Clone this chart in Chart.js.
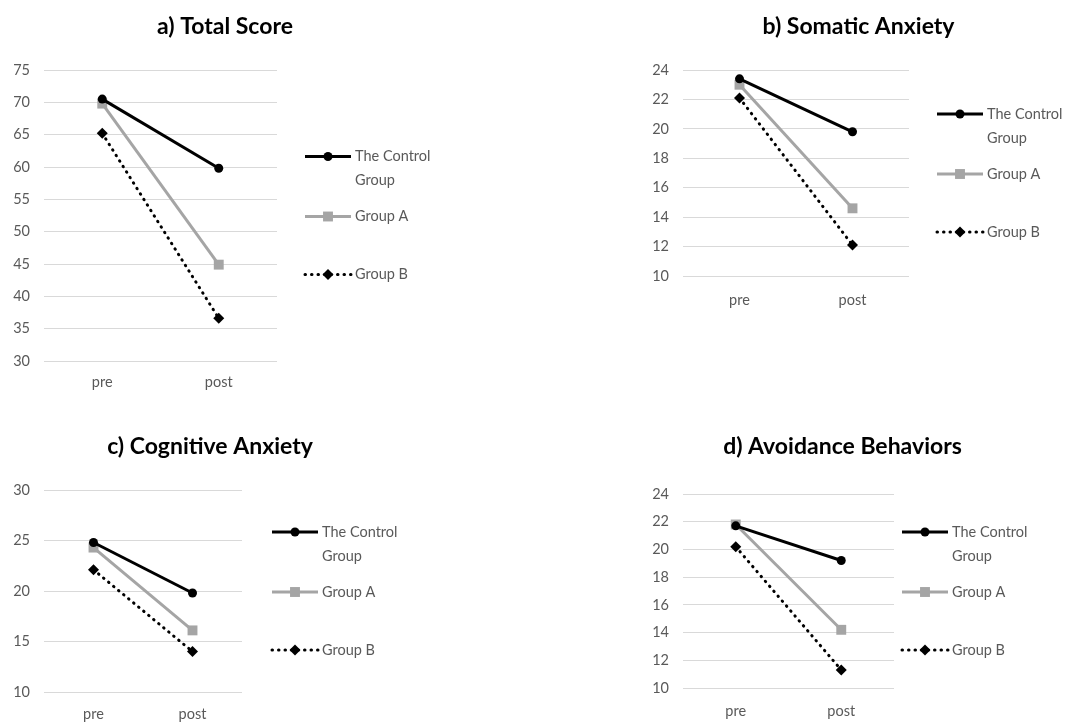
<!DOCTYPE html>
<html>
<head>
<meta charset="utf-8">
<title>Anxiety scores pre / post</title>
<script src="https://cdn.jsdelivr.net/npm/chart.js@4"></script>
<style>
  body { margin: 0; background: #fff; width: 1087px; height: 723px; position: relative; overflow: hidden; }
  canvas { position: absolute; }
</style>
</head>
<body>
<canvas id="chartA" width="450" height="395" style="left:0;top:0"></canvas>
<canvas id="chartB" width="457" height="395" style="left:630px;top:0"></canvas>
<canvas id="chartC" width="420" height="323" style="left:0;top:400px"></canvas>
<canvas id="chartD" width="489" height="323" style="left:598px;top:400px"></canvas>
<script>
// data
const categories = ['pre', 'post'];
const seriesNames = ['The Control Group', 'Group A', 'Group B'];
const panelTitles = ['a) Total Score', 'b) Somatic Anxiety', 'c) Cognitive Anxiety', 'd) Avoidance Behaviors'];

const totalControl = [70.5, 59.8];
const totalGroupA = [69.8, 44.9];
const totalGroupB = [65.2, 36.6];

const somaticControl = [23.4, 19.8];
const somaticGroupA = [23.0, 14.6];
const somaticGroupB = [22.1, 12.1];

const cognitiveControl = [24.8, 19.8];
const cognitiveGroupA = [24.3, 16.1];
const cognitiveGroupB = [22.1, 14.0];

const avoidanceControl = [21.7, 19.2];
const avoidanceGroupA = [21.8, 14.2];
const avoidanceGroupB = [20.2, 11.3];

const totalTicks = [30, 35, 40, 45, 50, 55, 60, 65, 70, 75];
const somaticTicks = [10, 12, 14, 16, 18, 20, 22, 24];
const cognitiveTicks = [10, 15, 20, 25, 30];
const avoidanceTicks = [10, 12, 14, 16, 18, 20, 22, 24];

const FONT = 'Lato, "Open Sans", sans-serif';
const TEXT_GREY = '#595959';
const TEXT_SIZE = 14.5;

// look of each series (control, A, B)
const seriesStyles = [
  { color: '#000000', pointStyle: 'circle', radius: 4.5, dash: [] },
  { color: '#a5a5a5', pointStyle: 'rect', radius: 7, dash: [] },
  { color: '#000000', pointStyle: 'rectRot', radius: 5.5, dash: [0.5, 6] }
];

function drawMarker(ctx, style, x, y) {
  ctx.beginPath();
  if (style.pointStyle === 'circle') {
    ctx.arc(x, y, style.radius, 0, Math.PI * 2);
  } else if (style.pointStyle === 'rect') {
    const s = style.radius * Math.SQRT1_2;
    ctx.rect(x - s, y - s, 2 * s, 2 * s);
  } else {
    const r = style.radius;
    ctx.moveTo(x, y - r); ctx.lineTo(x + r, y); ctx.lineTo(x, y + r); ctx.lineTo(x - r, y); ctx.closePath();
  }
  ctx.fill();
}

function wrapText(ctx, text, maxWidth) {
  const words = text.split(' ');
  const lines = [];
  let line = '';
  for (const w of words) {
    const test = line ? line + ' ' + w : w;
    if (line && ctx.measureText(test).width > maxWidth) {
      lines.push(line);
      line = w;
    } else {
      line = test;
    }
  }
  lines.push(line);
  return lines;
}

// title + legend drawn by hand so the legend text can wrap like in the original
const panelDecor = {
  id: 'panelDecor',
  afterDraw(chart, args, opts) {
    const ctx = chart.ctx;
    const area = chart.chartArea;
    ctx.save();
    ctx.fillStyle = '#000';
    ctx.font = 'bold 23px ' + FONT;
    ctx.textAlign = 'center';
    ctx.textBaseline = 'middle';
    ctx.fillText(opts.title, chart.width / 2, opts.titleY);

    const cy = (area.top + area.bottom) / 2;
    const lx = area.right + opts.legendGap;
    const rowOffsets = [-59, 1, 59];
    ctx.font = TEXT_SIZE + 'px ' + FONT;
    ctx.textAlign = 'left';
    chart.data.datasets.forEach((ds, i) => {
      const st = seriesStyles[i];
      const y = cy + rowOffsets[i];
      ctx.strokeStyle = ds.borderColor;
      ctx.lineWidth = ds.borderWidth;
      ctx.lineCap = ds.borderCapStyle;
      ctx.setLineDash(ds.borderDash);
      ctx.beginPath();
      ctx.moveTo(lx, y);
      ctx.lineTo(lx + 46, y);
      ctx.stroke();
      ctx.setLineDash([]);
      ctx.fillStyle = ds.borderColor;
      drawMarker(ctx, st, lx + 23, y);
      ctx.fillStyle = TEXT_GREY;
      wrapText(ctx, ds.label, 90).forEach((t, k) => {
        ctx.fillText(t, lx + 50, y + k * 24);
      });
    });
    ctx.restore();
  }
};

function makePanel(id, title, ticks, control, groupA, groupB, lay) {
  const values = [control, groupA, groupB];
  const datasets = values.map((v, i) => {
    const st = seriesStyles[i];
    return {
      label: seriesNames[i],
      data: v,
      borderColor: st.color,
      backgroundColor: st.color,
      borderWidth: 3,
      borderDash: st.dash,
      borderCapStyle: st.dash.length ? 'round' : 'butt',
      pointStyle: st.pointStyle,
      pointRadius: st.radius,
      pointBorderWidth: 0,
      pointBackgroundColor: st.color,
      tension: 0
    };
  });
  return new Chart(document.getElementById(id), {
    type: 'line',
    data: { labels: categories, datasets: datasets },
    plugins: [panelDecor],
    options: {
      responsive: false,
      animation: false,
      events: [],
      layout: { padding: { left: lay.left, right: lay.right, top: lay.top, bottom: lay.bottom } },
      plugins: {
        legend: { display: false },
        title: { display: false },
        tooltip: { enabled: false },
        panelDecor: { title: title, titleY: lay.titleY, legendGap: lay.legendGap }
      },
      scales: {
        x: {
          offset: true,
          grid: { display: false, drawTicks: false },
          border: { display: false },
          ticks: { color: TEXT_GREY, font: { family: FONT, size: TEXT_SIZE }, padding: lay.xPad },
          afterFit(scale) { scale.height = lay.xHeight; }
        },
        y: {
          min: ticks[0],
          max: ticks[ticks.length - 1],
          afterBuildTicks(scale) { scale.ticks = ticks.map(v => ({ value: v })); },
          grid: { color: '#d9d9d9', lineWidth: 1, drawTicks: false },
          border: { display: false },
          ticks: { color: TEXT_GREY, font: { family: FONT, size: TEXT_SIZE }, padding: 14 },
          afterFit(scale) { scale.width = 44; }
        }
      }
    }
  });
}

makePanel('chartA', panelTitles[0], totalTicks, totalControl, totalGroupA, totalGroupB,
  { left: 0, right: 173, top: 70, bottom: 0, xHeight: 34, xPad: 13, titleY: 27, legendGap: 28 });
makePanel('chartB', panelTitles[1], somaticTicks, somaticControl, somaticGroupA, somaticGroupB,
  { left: 9, right: 178, top: 70, bottom: 85, xHeight: 34, xPad: 16, titleY: 27, legendGap: 28 });
makePanel('chartC', panelTitles[2], cognitiveTicks, cognitiveControl, cognitiveGroupA, cognitiveGroupB,
  { left: 0, right: 178, top: 90, bottom: 0, xHeight: 31, xPad: 14, titleY: 47, legendGap: 30 });
makePanel('chartD', panelTitles[3], avoidanceTicks, avoidanceControl, avoidanceGroupA, avoidanceGroupB,
  { left: 41, right: 193, top: 94, bottom: 0, xHeight: 35, xPad: 15, titleY: 47, legendGap: 8 });
</script>
</body>
</html>
